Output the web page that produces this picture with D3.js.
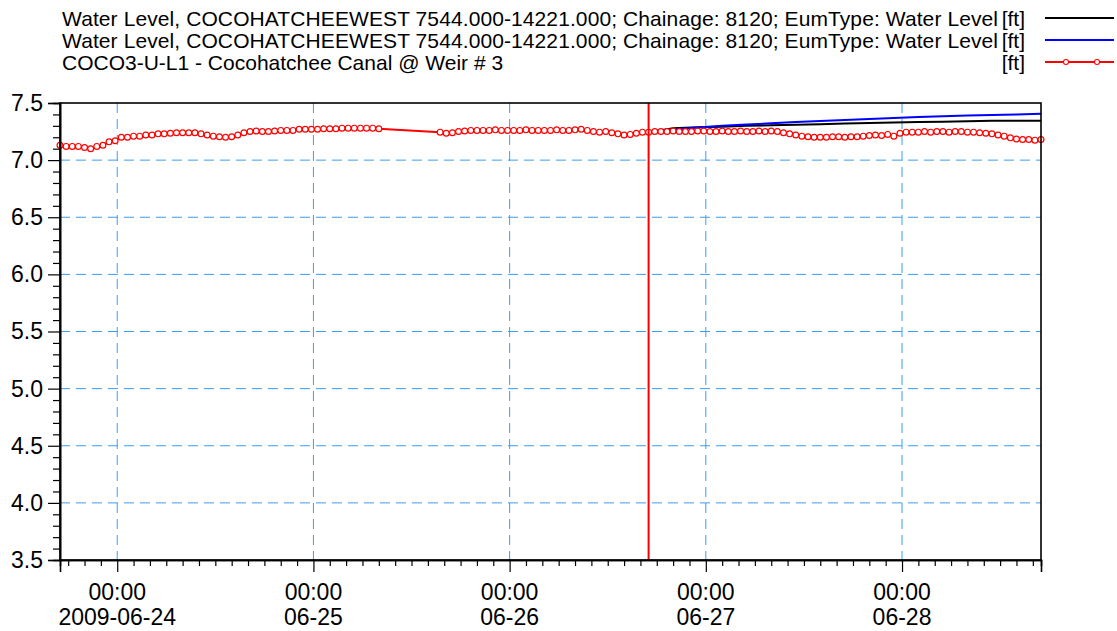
<!DOCTYPE html>
<html>
<head>
<meta charset="utf-8">
<script src="https://cdn.jsdelivr.net/npm/d3@7"></script>
<style>
  html, body { margin: 0; padding: 0; background: #fff; }
  svg { display: block; font-family: "Liberation Sans", Arial, sans-serif; }
</style>
</head>
<body>
<svg id="chart" width="1117" height="631"></svg>
<script>
// ---------------- data ----------------
const seriesNames = [
  "Water Level, COCOHATCHEEWEST 7544.000-14221.000; Chainage: 8120; EumType: Water Level",
  "Water Level, COCOHATCHEEWEST 7544.000-14221.000; Chainage: 8120; EumType: Water Level",
  "COCO3-U-L1 - Cocohatchee Canal @ Weir # 3"
];
const seriesUnits = ["[ft]", "[ft]", "[ft]"];

const xStart = "2009-06-23T17:00:00Z";
const xEnd = "2009-06-28T17:00:00Z";
const forecastStart = "2009-06-26T17:00:00Z";

// observed series, one value every 45 minutes from xStart (null = missing)
const obsStepMinutes = 45;
const observed = [
  7.13, 7.12, 7.12, 7.12, 7.11, 7.10, 7.12, 7.13, 7.16, 7.17,
  7.20, 7.20, 7.21, 7.21, 7.22, 7.22, 7.23, 7.23, 7.235, 7.24,
  7.24, 7.24, 7.24, 7.23, 7.22, 7.21, 7.205, 7.20, 7.205, 7.22,
  7.24, 7.25, 7.255, 7.25, 7.25, 7.255, 7.26, 7.26, 7.26, 7.27,
  7.27, 7.27, 7.27, 7.275, 7.275, 7.275, 7.28, 7.28, 7.28, 7.28,
  7.28, 7.28, 7.275,
  null, null, null, null, null, null, null, null, null,
  7.245, 7.235, 7.24, 7.25, 7.255, 7.26, 7.26, 7.26,
  7.26, 7.265, 7.26, 7.26, 7.26, 7.26, 7.265, 7.26, 7.26, 7.26,
  7.26, 7.265, 7.26, 7.26, 7.265, 7.27, 7.26, 7.25, 7.245, 7.25,
  7.24, 7.23, 7.22, 7.225, 7.235, 7.245, 7.245, 7.25, 7.25, 7.25,
  7.255, 7.25, 7.25, 7.25, 7.255, 7.255, 7.25, 7.25, 7.255, 7.25,
  7.25, 7.255, 7.25, 7.25, 7.255, 7.25, 7.255, 7.25, 7.24, 7.23,
  7.22, 7.21, 7.205, 7.20, 7.20, 7.20, 7.205, 7.205, 7.20, 7.205,
  7.205, 7.21, 7.215, 7.22, 7.215, 7.225, 7.21, 7.235, 7.245, 7.245,
  7.245, 7.25, 7.245, 7.25, 7.25, 7.245, 7.25, 7.25, 7.245, 7.245,
  7.24, 7.235, 7.23, 7.22, 7.21, 7.195, 7.185, 7.18, 7.18, 7.175, 7.18
];

// simulated series (forecast part), one value every 3 hours from forecastStart
const simStepMinutes = 180;
const simBlack = [7.245, 7.278, 7.287, 7.292, 7.30, 7.305, 7.31, 7.315, 7.32, 7.325, 7.33, 7.333, 7.335, 7.34, 7.345, 7.345, 7.345];
const simBlue  = [7.245, 7.268, 7.285, 7.300, 7.312, 7.322, 7.333, 7.343, 7.352, 7.36, 7.368, 7.377, 7.385, 7.39, 7.396, 7.40, 7.405];

const yMajorTicks = [3.5, 4.0, 4.5, 5.0, 5.5, 6.0, 6.5, 7.0, 7.5];
const xTickDates = ["2009-06-24T00:00:00Z", "2009-06-25T00:00:00Z", "2009-06-26T00:00:00Z", "2009-06-27T00:00:00Z", "2009-06-28T00:00:00Z"];
const xTickTimeLabels = ["00:00", "00:00", "00:00", "00:00", "00:00"];
const xTickDateLabels = ["2009-06-24", "06-25", "06-26", "06-27", "06-28"];

// ---------------- layout ----------------
const svg = d3.select("#chart");
const L = 60, R = 1041, T = 103, B = 560;
const t0 = new Date(xStart), t1 = new Date(xEnd), tF = new Date(forecastStart);

const x = d3.scaleUtc().domain([t0, t1]).range([L, R]);
const y = d3.scaleLinear().domain([3.5, 7.5]).range([B, T]);

const obsData = observed.map((v, i) => ({ t: new Date(t0.getTime() + i * obsStepMinutes * 60000), v }));
const blackData = simBlack.map((v, i) => ({ t: new Date(tF.getTime() + i * simStepMinutes * 60000), v }));
const blueData = simBlue.map((v, i) => ({ t: new Date(tF.getTime() + i * simStepMinutes * 60000), v }));

const gridColor = "#3d9df2";

// grid
const grid = svg.append("g");
grid.selectAll("line.hg").data(yMajorTicks.filter(v => v > 3.5 && v < 7.5)).enter()
  .append("line")
  .attr("x1", L).attr("x2", R)
  .attr("y1", d => y(d)).attr("y2", d => y(d))
  .attr("stroke", gridColor).attr("stroke-width", 1).attr("stroke-dasharray", "10,6");
grid.selectAll("line.vg").data(xTickDates.map(d => new Date(d))).enter()
  .append("line")
  .attr("x1", d => x(d)).attr("x2", d => x(d))
  .attr("y1", T).attr("y2", B)
  .attr("stroke", gridColor).attr("stroke-width", 1).attr("stroke-dasharray", "10,6");

// lines
const line = d3.line().x(d => x(d.t)).y(d => y(d.v));
const obsDefined = obsData.filter(d => d.v !== null);

svg.append("path").datum(blackData).attr("d", line)
  .attr("fill", "none").attr("stroke", "#000").attr("stroke-width", 2);
svg.append("path").datum(blueData).attr("d", line)
  .attr("fill", "none").attr("stroke", "#0000ff").attr("stroke-width", 2);
svg.append("path").datum(obsDefined).attr("d", line)
  .attr("fill", "none").attr("stroke", "#ff0000").attr("stroke-width", 2);
svg.append("g").selectAll("circle").data(obsDefined).enter()
  .append("circle")
  .attr("cx", d => x(d.t)).attr("cy", d => y(d.v)).attr("r", 2.9)
  .attr("fill", "#fff").attr("stroke", "#ff0000").attr("stroke-width", 1.2);

// forecast start marker
svg.append("line")
  .attr("x1", x(tF)).attr("x2", x(tF)).attr("y1", T).attr("y2", B)
  .attr("stroke", "#ff0000").attr("stroke-width", 2);

// frame
svg.append("rect").attr("x", L).attr("y", T).attr("width", R - L).attr("height", B - T)
  .attr("fill", "none").attr("stroke", "#000").attr("stroke-width", 1.6);

// y axis
const yMinor = d3.range(35, 76).map(v => v / 10).filter(v => !yMajorTicks.some(m => Math.abs(m - v) < 1e-9));
const yAxisG = svg.append("g").attr("transform", `translate(${L},0)`)
  .call(d3.axisLeft(y).tickValues(yMajorTicks).tickSize(12).tickPadding(5).tickFormat(d3.format(".1f")));
svg.append("g").attr("transform", `translate(${L},0)`)
  .call(d3.axisLeft(y).tickValues(yMinor).tickSize(7).tickFormat(""));

// x axis
const xMinor = d3.utcHour.every(2).range(t0, new Date(t1.getTime() + 1)).filter(d => d.getUTCHours() !== 0);
svg.append("g").attr("transform", `translate(0,${B})`)
  .call(d3.axisBottom(x).tickValues(xTickDates.map(d => new Date(d))).tickSize(12).tickFormat(""));
svg.append("g").attr("transform", `translate(0,${B})`)
  .call(d3.axisBottom(x).tickValues(xMinor).tickSize(6).tickFormat(""));

svg.selectAll(".domain").attr("stroke", "#000").attr("stroke-width", 1.6);
svg.selectAll(".tick line").attr("stroke", "#000").attr("stroke-width", 1.2);
yAxisG.selectAll("text").attr("font-size", 23).attr("fill", "#000")
  .attr("font-family", "'Liberation Sans', Arial, sans-serif");

const xl = svg.append("g").attr("font-size", 23).attr("fill", "#000").attr("text-anchor", "middle");
xTickDates.forEach((d, i) => {
  const px = x(new Date(d));
  xl.append("text").attr("x", px).attr("y", 600).text(xTickTimeLabels[i]);
  xl.append("text").attr("x", px).attr("y", 625).text(xTickDateLabels[i]);
});

// legend
const legendColors = ["#000000", "#0000ff", "#ff0000"];
const lg = svg.append("g").attr("font-size", 21).attr("fill", "#000");
seriesNames.forEach((name, i) => {
  const cy = 18 + i * 22;
  const t = lg.append("text").attr("x", 62).attr("y", cy + 7.5).text(name);
  if (i < 2) t.attr("textLength", 936).attr("lengthAdjust", "spacing");
  lg.append("text").attr("x", 1025).attr("y", cy + 7.5).attr("text-anchor", "end").text(seriesUnits[i]);
  lg.append("line").attr("x1", 1045).attr("x2", 1114).attr("y1", cy).attr("y2", cy)
    .attr("stroke", legendColors[i]).attr("stroke-width", 1.8);
  if (i === 2) {
    [1066, 1097].forEach(cx => {
      lg.append("circle").attr("cx", cx).attr("cy", cy).attr("r", 2.5)
        .attr("fill", "#fff").attr("stroke", "#ff0000").attr("stroke-width", 1.1);
    });
  }
});
</script>
</body>
</html>
